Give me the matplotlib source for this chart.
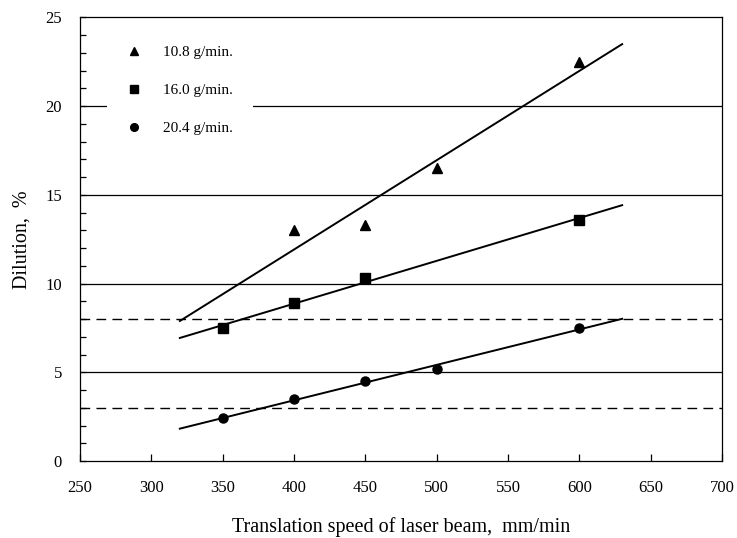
import numpy as np
import matplotlib
matplotlib.use("Agg")
import matplotlib.pyplot as plt
from matplotlib.ticker import MultipleLocator

plt.rcParams['font.family'] = ['Liberation Serif', 'DejaVu Serif']

# Powder feed rate series: translation speed (mm/min) vs dilution (%)
labels = ["10.8 g/min.", "16.0 g/min.", "20.4 g/min."]
markers = ["^", "s", "o"]
speed_a = [400, 450, 500, 600]
dil_a = [13.0, 13.3, 16.5, 22.5]
speed_b = [350, 400, 450, 600]
dil_b = [7.5, 8.9, 10.3, 13.6]
speed_c = [350, 400, 450, 500, 600]
dil_c = [2.4, 3.5, 4.5, 5.2, 7.5]
fit_range = [320, 630]

solid_levels = [5, 10, 15, 20]
dashed_levels = [3, 8]

fig = plt.figure(figsize=(7.37, 5.38), dpi=100)
ax = fig.add_axes([0.1085, 0.1431, 0.8712, 0.8244])

for lvl in solid_levels:
    ax.axhline(lvl, color='black', lw=0.9, zorder=1)
for lvl in dashed_levels:
    ax.axhline(lvl, color='black', lw=1.0, ls=(0, (7, 4.5)), zorder=1)

xs = np.array(fit_range, dtype=float)
for sx, sy, m, lab, ms in zip([speed_a, speed_b, speed_c], [dil_a, dil_b, dil_c],
                              markers, labels, [7.5, 6.5, 6.5]):
    k, b = np.polyfit(sx, sy, 1)
    ax.plot(xs, k * xs + b, color='black', lw=1.4, zorder=2)
    ax.plot(sx, sy, ls='none', marker=m, color='black', ms=ms, label=lab, zorder=3)

ax.set_xlim(250, 700)
ax.set_ylim(0, 25)
ax.xaxis.set_major_locator(MultipleLocator(50))
ax.yaxis.set_major_locator(MultipleLocator(5))
ax.yaxis.set_minor_locator(MultipleLocator(1))
ax.tick_params(axis='x', direction='in', length=5, width=0.9, labelsize=12, pad=14)
ax.tick_params(axis='y', which='both', direction='in', length=4, width=0.9,
               labelsize=12, pad=13)
for sp in ax.spines.values():
    sp.set_linewidth(0.9)

ax.set_xlabel("Translation speed of laser beam,  mm/min", fontsize=14.5, labelpad=15)
ax.set_ylabel("Dilution,  %", fontsize=14.5, labelpad=10)

leg = ax.legend(loc='upper left', bbox_to_anchor=(0.03, 0.999), frameon=True,
                fontsize=11, labelspacing=1.6, handletextpad=1.4,
                handlelength=1.0, borderpad=1.3, markerscale=0.85)
leg.get_frame().set_facecolor('white')
leg.get_frame().set_edgecolor('none')
leg.get_frame().set_alpha(1)
leg.set_zorder(5)

fig.savefig("out.png", dpi=100)
